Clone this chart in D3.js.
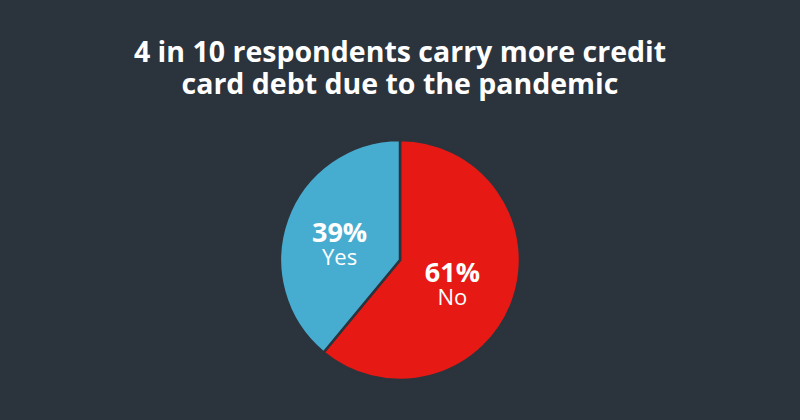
<!DOCTYPE html>
<html>
<head>
<meta charset="utf-8">
<script src="https://cdn.jsdelivr.net/npm/d3@7"></script>
<style>
  body { margin: 0; background: #2b333c; }
  svg { display: block; font-family: "Open Sans", sans-serif; }
</style>
</head>
<body>
<div id="chart"></div>
<script>
var svgWidth = 800;
var svgHeight = 420;

// data
var titleLines = ["4 in 10 respondents carry more credit", "card debt due to the pandemic"];
var labels = ["No", "Yes"];
var values = [61, 39];
var colors = ["#e61915", "#46acd0"];

var radius = 120;
var cx = 400;
var cy = 260;

var svg = d3.select("#chart")
  .append("svg")
  .attr("width", svgWidth)
  .attr("height", svgHeight);

svg.append("rect")
  .attr("width", svgWidth)
  .attr("height", svgHeight)
  .attr("fill", "#2b333c");

// title
svg.selectAll(".title")
  .data(titleLines)
  .enter()
  .append("text")
  .attr("class", "title")
  .attr("x", svgWidth / 2)
  .attr("y", (d, i) => 62 + i * 32)
  .attr("text-anchor", "middle")
  .attr("fill", "#ffffff")
  .attr("font-size", "28.5px")
  .attr("font-weight", "bold")
  .text(d => d);

var data = labels.map((l, i) => ({ label: l, value: values[i], color: colors[i] }));

var pie = d3.pie()
  .value(d => d.value)
  .sort(null);

var arc = d3.arc()
  .innerRadius(0)
  .outerRadius(radius);

var labelArc = d3.arc()
  .innerRadius(radius * 0.5)
  .outerRadius(radius * 0.5);

var chartGroup = svg.append("g")
  .attr("transform", `translate(${cx}, ${cy})`);

var slices = chartGroup.selectAll(".slice")
  .data(pie(data))
  .enter()
  .append("g")
  .attr("class", "slice");

slices.append("path")
  .attr("d", arc)
  .attr("fill", d => d.data.color)
  .attr("stroke", "#2b333c")
  .attr("stroke-width", 2.5);

// percent + label, nudged a little left of the centroid
slices.append("text")
  .attr("transform", d => {
    var c = labelArc.centroid(d);
    return `translate(${c[0] - 4}, ${c[1]})`;
  })
  .attr("text-anchor", "middle")
  .attr("fill", "#ffffff")
  .each(function(d) {
    var t = d3.select(this);
    t.append("tspan")
      .attr("x", 0)
      .attr("y", 2)
      .attr("font-size", "27px")
      .attr("font-weight", "bold")
      .text(d.data.value + "%");
    t.append("tspan")
      .attr("x", 0)
      .attr("y", 25)
      .attr("font-size", "22px")
      .text(d.data.label);
  });
</script>
</body>
</html>
